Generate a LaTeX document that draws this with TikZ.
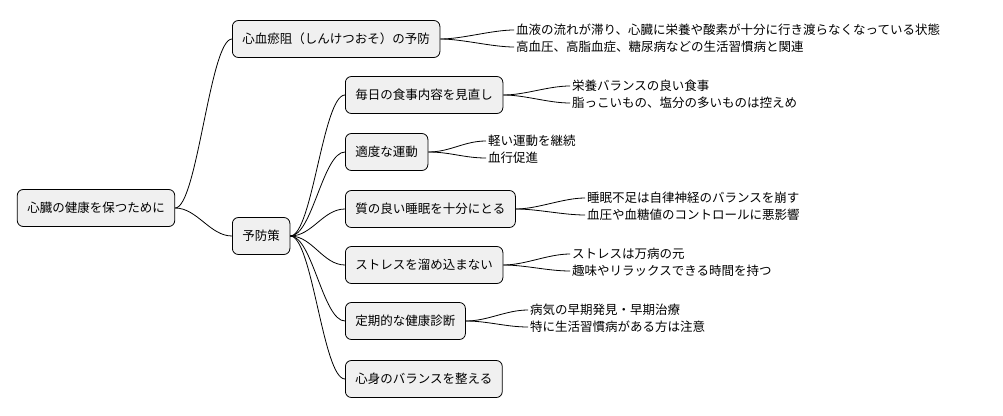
\documentclass[tikz,border=0pt]{standalone}
\usepackage{fontspec}
\setmainfont{Noto Sans CJK JP}
\usetikzlibrary{positioning}
\tikzset{
    topic/.style={draw=black, fill=gray!12, rounded corners=6pt, line width=0.8pt,
        minimum height=37pt, inner xsep=10pt, font=\fontsize{12.5}{14}\selectfont},
    leaf/.style={anchor=west, inner sep=2pt, font=\fontsize{12.5}{14}\selectfont},
    link/.style={draw=black, line width=0.8pt}
}
\begin{document}
\begin{tikzpicture}[x=1pt, y=-1pt]
    \useasboundingbox (0,0) rectangle (1003,415);
    % main topics
    \node[topic] (root) at (96,208) {心臓の健康を保つために};
    \node[topic, anchor=west] (stasis) at (232,39) {心血瘀阻（しんけつおそ）の予防};
    \node[topic, anchor=west] (prevent) at (232,236) {予防策};
    \node[topic, anchor=west] (diet) at (345,95) {毎日の食事内容を見直し};
    \node[topic, anchor=west] (exercise) at (345,152) {適度な運動};
    \node[topic, anchor=west] (sleep) at (345,209) {質の良い睡眠を十分にとる};
    \node[topic, anchor=west] (stress) at (345,265) {ストレスを溜め込まない};
    \node[topic, anchor=west] (checkup) at (345,321) {定期的な健康診断};
    \node[topic, anchor=west] (balance) at (345,379) {心身のバランスを整える};
    % leaves
    \node[leaf] (stasisA) at (514,30) {血液の流れが滞り、心臓に栄養や酸素が十分に行き渡らなくなっている状態};
    \node[leaf] (stasisB) at (514,47) {高血圧、高脂血症、糖尿病などの生活習慣病と関連};
    \node[leaf] (dietA) at (570,86) {栄養バランスの良い食事};
    \node[leaf] (dietB) at (570,103) {脂っこいもの、塩分の多いものは控えめ};
    \node[leaf] (exerciseA) at (486,141) {軽い運動を継続};
    \node[leaf] (exerciseB) at (486,158) {血行促進};
    \node[leaf] (sleepA) at (585,198) {睡眠不足は自律神経のバランスを崩す};
    \node[leaf] (sleepB) at (585,215) {血圧や血糖値のコントロールに悪影響};
    \node[leaf] (stressA) at (570,254) {ストレスは万病の元};
    \node[leaf] (stressB) at (570,271) {趣味やリラックスできる時間を持つ};
    \node[leaf] (checkupA) at (528,310) {病気の早期発見・早期治療};
    \node[leaf] (checkupB) at (528,327) {特に生活習慣病がある方は注意};
    % connectors
    \foreach \a/\b in {root/stasis, root/prevent,
        prevent/diet, prevent/exercise, prevent/sleep, prevent/stress, prevent/checkup, prevent/balance,
        stasis/stasisA, stasis/stasisB, diet/dietA, diet/dietB,
        exercise/exerciseA, exercise/exerciseB, sleep/sleepA, sleep/sleepB,
        stress/stressA, stress/stressB, checkup/checkupA, checkup/checkupB} {
        \draw[link] (\a.east) .. controls ++(22,0) and ++(-22,0) .. (\b.west);
    }
\end{tikzpicture}
\end{document}
